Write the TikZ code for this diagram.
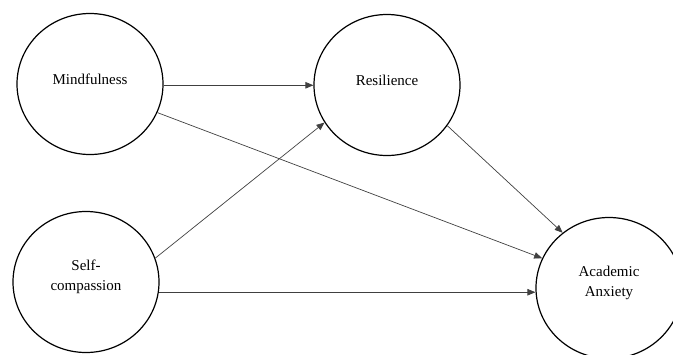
\documentclass[tikz,border=0pt]{standalone}
\usepackage{fontspec}
\setmainfont{Liberation Serif}
\usetikzlibrary{shapes.geometric,arrows.meta}
\begin{document}
\begin{tikzpicture}[x=1pt,y=-1pt,
  latent/.style={ellipse,draw=black,line width=1.2pt,minimum width=146pt,minimum height=141pt,inner sep=0pt},
  lbl/.style={font=\fontsize{15}{19.5}\selectfont,align=center,inner sep=0pt},
  path/.style={draw=black!75,line width=0.7pt,-{Triangle[length=8pt,width=6.5pt]}}]
\useasboundingbox (0,0) rectangle (673,354);
\clip (0,0) rectangle (673,354);
\node[latent] (m) at (90,84) {};
\node[latent] (r) at (387,85) {};
\node[latent] (s) at (86,282) {};
\node[latent] (a) at (609,288) {};
\node[lbl] (mt) at (90,79) {Mindfulness};
\node[lbl] (rt) at (387,80) {Resilience};
\node[lbl] (st) at (86,277) {Self-\\compassion};
\node[lbl] (at) at (609,283) {Academic\\Anxiety};
\draw[path] (m.-1.5) -- (m.-1.5 -| r.west);
\draw[path] (m.-23) -- (a.156);
\draw[path] (s.19) -- (r.211);
\draw[path] (r.-34) -- (a.130);
\draw[path] (s.-8.6) -- (s.-8.6 -| a.west);
\end{tikzpicture}
\end{document}
